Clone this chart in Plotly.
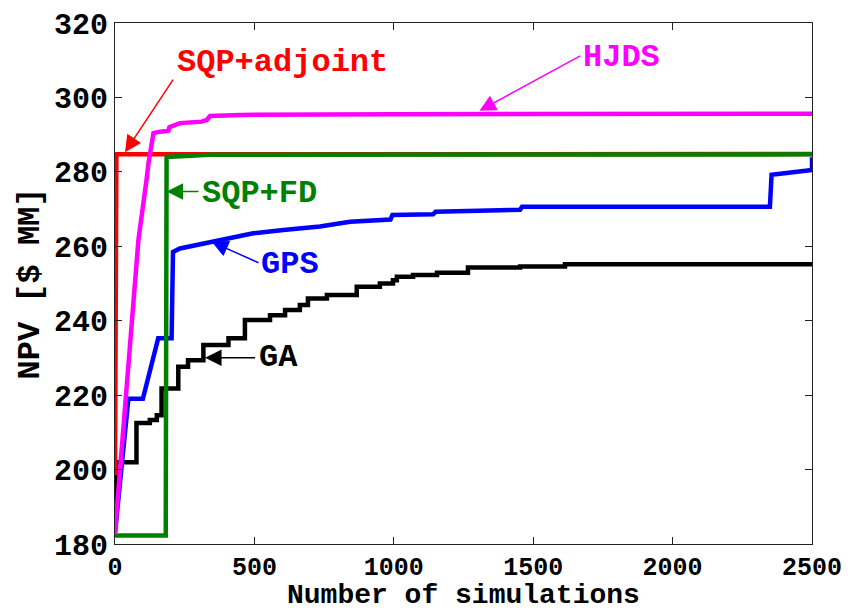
import plotly.graph_objects as go

# NPV history of each optimizer versus the number of reservoir simulations
ga_x = [0, 3, 77, 125, 150, 167, 227, 262, 317, 407, 466, 556, 610, 663, 692, 760,
        867, 950, 997, 1011, 1069, 1155, 1266, 1453, 1614, 2500]
ga_y = [186, 202.0, 212.5, 213.3, 214.6, 221.8, 227.6, 229.4, 233.5, 235.3, 240.2,
        241.5, 242.9, 244.2, 246.0, 246.9, 249.1, 250.0, 250.9, 251.8, 252.3, 252.9,
        254.3, 254.6, 255.2, 255.2]

gps_x = [0, 48, 100, 155, 203, 208, 233, 341, 496, 604, 735, 843, 988, 995, 1141,
         1150, 1453, 1460, 2349, 2355, 2500, 2500]
gps_y = [183, 219, 219, 235.3, 235.3, 258.5, 259.4, 261.2, 263.5, 264.4, 265.3,
         266.6, 267.2, 268.4, 268.6, 269.3, 269.8, 270.6, 270.6, 279.2, 280.5, 283.9]

adj_x = [0, 5, 2500]
adj_y = [198.5, 284.7, 284.8]

fd_x = [0, 182, 185, 340, 2500]
fd_y = [182.3, 182.3, 284.0, 284.6, 284.7]

hjds_x = [0, 84, 113, 120, 138, 161, 191, 195, 233, 311, 330, 341, 450, 1000, 2500]
hjds_y = [183, 261.7, 277.8, 282.3, 290.4, 290.8, 291.0, 292.0, 293.1, 293.5, 294.0,
          295.0, 295.3, 295.5, 295.6]

x_ticks = [0, 500, 1000, 1500, 2000, 2500]
y_ticks = [180, 200, 220, 240, 260, 280, 300, 320]

FONT = "Liberation Mono"

fig = go.Figure()
fig.add_trace(go.Scatter(x=ga_x, y=ga_y, mode="lines", line=dict(color="black", width=4.5, shape="hv")))
fig.add_trace(go.Scatter(x=gps_x, y=gps_y, mode="lines", line=dict(color="#0000ff", width=4.5)))
fig.add_trace(go.Scatter(x=adj_x, y=adj_y, mode="lines", line=dict(color="#ff0000", width=4.5)))
fig.add_trace(go.Scatter(x=fd_x, y=fd_y, mode="lines", line=dict(color="#008000", width=4.5)))
fig.add_trace(go.Scatter(x=hjds_x, y=hjds_y, mode="lines", line=dict(color="#ff00ff", width=4.5)))


def arrow(x, y, ax, ay, color):
    return dict(x=x, y=y, ax=ax, ay=ay, xref="x", yref="y", axref="x", ayref="y",
                text="", showarrow=True, arrowhead=2, arrowsize=2.2, arrowwidth=1.5,
                arrowcolor=color)


def label(x, y, text, color):
    return dict(x=x, y=y, xref="x", yref="y", text=text, showarrow=False,
                font=dict(family=FONT, size=32, color=color, weight="bold"))


annotations = [
    arrow(36, 285.3, 212, 305.2, "#ff0000"),
    label(601, 309.3, "SQP+adjoint", "#ff0000"),
    arrow(1307, 296.4, 1674, 311.4, "#ff00ff"),
    label(1815, 310.6, "HJDS", "#ff00ff"),
    arrow(185, 274.7, 305, 274.7, "#008000"),
    label(520, 274.3, "SQP+FD", "#008000"),
    arrow(347, 261.2, 520, 255.4, "#0000ff"),
    label(628, 255.0, "GPS", "#0000ff"),
    arrow(323, 230.05, 508, 230.05, "black"),
    label(585, 230.0, "GA", "black"),
    # x-axis title, set just under the tick labels
    dict(x=0.5, y=-0.098, xref="paper", yref="paper", text="Number of simulations",
         showarrow=False, xanchor="center", yanchor="middle",
         font=dict(family=FONT, size=28, color="black", weight="bold")),
]

fig.update_layout(
    width=853, height=610,
    margin=dict(l=115, r=41, t=23, b=66, autoexpand=False),
    paper_bgcolor="white", plot_bgcolor="white",
    showlegend=False,
    annotations=annotations,
    font=dict(family=FONT, color="black"),
)
fig.update_xaxes(
    range=[0, 2500], tickvals=x_ticks, ticktext=[str(v) for v in x_ticks],
    ticks="inside", ticklen=7, tickcolor="#222", showline=True, linecolor="#222",
    linewidth=1, mirror="ticks", showgrid=False, zeroline=False, automargin=False,
    tickfont=dict(family=FONT, size=25, weight="bold"),
)
fig.update_yaxes(
    range=[180, 320], tickvals=y_ticks, ticktext=[str(v) for v in y_ticks],
    ticks="inside", ticklen=7, tickcolor="#222", showline=True, linecolor="#222",
    linewidth=1, mirror="ticks", showgrid=False, zeroline=False, automargin=False,
    tickfont=dict(family=FONT, size=30, weight="bold"),
    title=dict(text="NPV [$ MM]", standoff=4,
               font=dict(family=FONT, size=32, weight="bold")),
)

fig.write_html("out.html")
